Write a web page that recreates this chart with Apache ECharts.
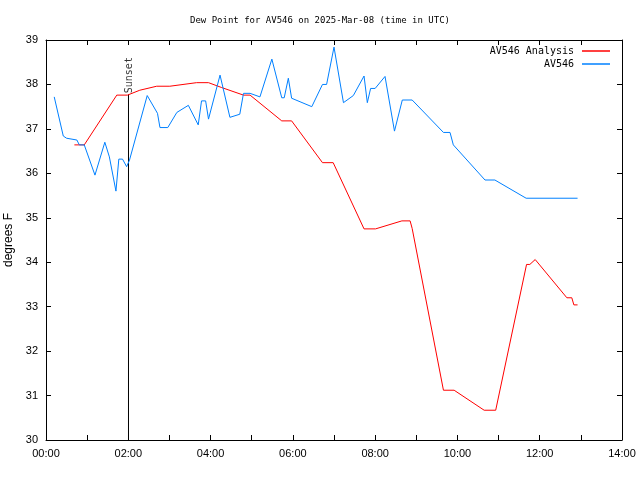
<!DOCTYPE html>
<html>
<head>
<meta charset="utf-8">
<script src="https://cdn.jsdelivr.net/npm/echarts@6/dist/echarts.min.js"></script>
<style>html,body{margin:0;padding:0;background:#fff}#c{width:640px;height:480px}</style>
</head>
<body>
<div id="c"></div>
<script>
// Time in decimal hours UTC, values in degrees F
const titleText = 'Dew Point for AV546 on 2025-Mar-08 (time in UTC)';
const yAxisName = 'degrees F';
const analysisName = 'AV546 Analysis';
const observedName = 'AV546';

const observedTimes = [0.20,0.42,0.50,0.75,0.81,0.93,1.19,1.43,1.54,1.70,1.77,1.86,1.96,2.03,2.46,2.71,2.77,2.96,3.18,3.46,3.70,3.78,3.88,3.95,4.23,4.47,4.71,4.80,4.96,5.20,5.49,5.73,5.79,5.89,5.97,6.46,6.72,6.82,7.00,7.23,7.47,7.73,7.81,7.89,8.00,8.24,8.47,8.66,8.90,9.66,9.82,9.90,10.67,10.91,11.67,12.92];
const observedValues = [37.72,36.84,36.79,36.75,36.64,36.64,35.96,36.70,36.37,35.60,36.32,36.32,36.15,36.30,37.75,37.35,37.03,37.03,37.37,37.53,37.09,37.63,37.63,37.22,38.21,37.26,37.33,37.80,37.80,37.72,38.57,37.70,37.70,38.14,37.69,37.50,38.00,38.00,38.84,37.59,37.75,38.19,37.59,37.91,37.91,38.18,36.95,37.65,37.65,36.92,36.92,36.64,35.85,35.85,35.44,35.44];

const analysisTimes = [0.69,0.93,1.72,1.98,2.28,2.69,3.01,3.66,3.95,4.27,4.80,4.96,5.73,5.97,6.72,6.98,7.73,8.01,8.65,8.85,8.90,9.66,9.92,10.65,10.93,11.68,11.76,11.89,12.66,12.78,12.83,12.92];
const analysisValues = [36.64,36.64,37.76,37.76,37.87,37.96,37.96,38.04,38.04,37.93,37.76,37.76,37.18,37.18,36.24,36.24,34.75,34.75,34.93,34.93,34.76,31.12,31.12,30.67,30.67,33.95,33.95,34.06,33.20,33.20,33.04,33.04];

const sunsetTime = 2.005;
const sunsetTop = 37.78;
const sunsetLabel = 'Sunset';

const xMin = 0, xMax = 14, xStep = 1;
const yMin = 30, yMax = 39, yStep = 1;

function zip(a, b) { return a.map((t, i) => [t, b[i]]); }
function hhmm(v) {
  if (Math.round(v) % 2 !== 0) return '';
  const h = Math.round(v);
  return (h < 10 ? '0' : '') + h + ':00';
}

const chart = echarts.init(document.getElementById('c'), null, {renderer: 'canvas'});
const tickFont = {fontFamily: 'Liberation Sans', fontSize: 11, color: '#000'};
chart.setOption({
  animation: false,
  backgroundColor: '#fff',
  title: {
    text: titleText, left: 'center', top: 11,
    textStyle: {fontFamily: 'DejaVu Sans Mono', fontSize: 9, fontWeight: 'normal', color: '#000'}
  },
  legend: {
    orient: 'vertical', right: 30, top: 46, align: 'right',
    itemGap: 3, itemWidth: 28, itemHeight: 1.5, icon: 'rect', padding: 0,
    textStyle: {fontFamily: 'DejaVu Sans Mono', fontSize: 10, color: '#000', padding: [0, 3, 0, 0]},
    data: [analysisName, observedName]
  },
  grid: {left: 46, right: 18, top: 40, bottom: 40, containLabel: false, outerBoundsMode: 'none'},
  xAxis: [{
    type: 'value', min: xMin, max: xMax, interval: xStep, position: 'bottom',
    axisLine: {show: true, onZero: false, lineStyle: {color: '#000', width: 1}},
    axisTick: {show: true, inside: true, length: 5, lineStyle: {color: '#000'}},
    axisLabel: Object.assign({formatter: hhmm, margin: 8}, tickFont),
    splitLine: {show: false}
  }, {
    type: 'value', min: xMin, max: xMax, interval: xStep, position: 'top',
    axisLine: {show: true, onZero: false, lineStyle: {color: '#000', width: 1}},
    axisTick: {show: true, inside: true, length: 5, lineStyle: {color: '#000'}},
    axisLabel: {show: false}, splitLine: {show: false}
  }],
  yAxis: [{
    type: 'value', min: yMin, max: yMax, interval: yStep, position: 'left',
    name: yAxisName, nameLocation: 'middle', nameGap: 26,
    nameTextStyle: {fontFamily: 'Liberation Sans', fontSize: 12, color: '#000'},
    axisLine: {show: true, onZero: false, lineStyle: {color: '#000', width: 1}},
    axisTick: {show: true, inside: true, length: 5, lineStyle: {color: '#000'}},
    axisLabel: Object.assign({margin: 8}, tickFont),
    splitLine: {show: false}
  }, {
    type: 'value', min: yMin, max: yMax, interval: yStep, position: 'right',
    axisLine: {show: true, onZero: false, lineStyle: {color: '#000', width: 1}},
    axisTick: {show: true, inside: true, length: 5, lineStyle: {color: '#000'}},
    axisLabel: {show: false}, splitLine: {show: false}
  }],
  series: [{
    name: analysisName, type: 'line', showSymbol: false, symbol: 'none',
    color: '#ff0000', lineStyle: {color: '#ff0000', width: 1},
    data: zip(analysisTimes, analysisValues), z: 3
  }, {
    name: observedName, type: 'line', showSymbol: false, symbol: 'none',
    color: '#0080ff', lineStyle: {color: '#0080ff', width: 1},
    data: zip(observedTimes, observedValues), z: 4
  }, {
    name: 'sunset', type: 'line', symbol: 'none', silent: true,
    lineStyle: {color: '#000', width: 1},
    data: [[sunsetTime, yMin], [sunsetTime, sunsetTop]], z: 2
  }, {
    name: 'sunsetLabel', type: 'scatter', symbolSize: 0, silent: true,
    data: [[sunsetTime, sunsetTop]],
    label: {
      show: true, formatter: sunsetLabel, position: [0, 0], rotate: 90,
      align: 'left', verticalAlign: 'middle', offset: [1, 1],
      fontFamily: 'DejaVu Sans Mono', fontSize: 10, color: '#000'
    }
  }]
});
</script>
</body>
</html>
